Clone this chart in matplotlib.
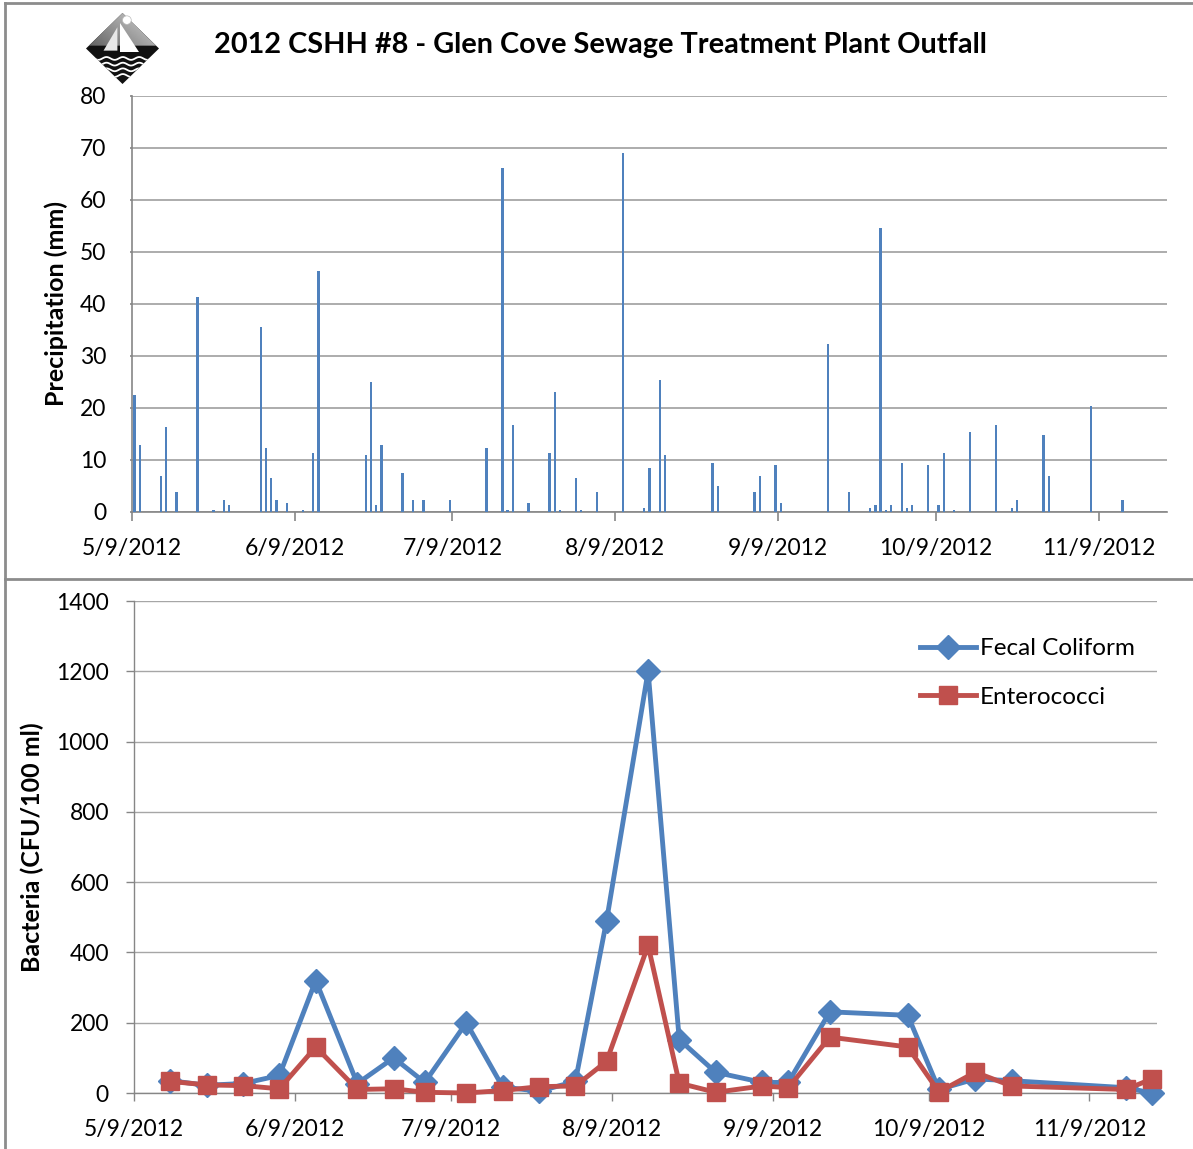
import numpy as np
import matplotlib
matplotlib.use('Agg')
import matplotlib.pyplot as plt
import matplotlib.dates as mdates
from matplotlib.patches import Polygon, Circle
from matplotlib.lines import Line2D
import datetime as dt

# ---------------- data ----------------
precip_dates = ['2012-05-09', '2012-05-10', '2012-05-14', '2012-05-15', '2012-05-17', '2012-05-21',
                '2012-05-24', '2012-05-26', '2012-05-27', '2012-06-02', '2012-06-03', '2012-06-04',
                '2012-06-05', '2012-06-07', '2012-06-10', '2012-06-12', '2012-06-13', '2012-06-22',
                '2012-06-23', '2012-06-24', '2012-06-25', '2012-06-29', '2012-07-01', '2012-07-03',
                '2012-07-08', '2012-07-15', '2012-07-18', '2012-07-19', '2012-07-20', '2012-07-23',
                '2012-07-27', '2012-07-28', '2012-07-29', '2012-08-01', '2012-08-02', '2012-08-05',
                '2012-08-10', '2012-08-14', '2012-08-15', '2012-08-17', '2012-08-18', '2012-08-27',
                '2012-08-28', '2012-09-04', '2012-09-05', '2012-09-08', '2012-09-09', '2012-09-18',
                '2012-09-22', '2012-09-26', '2012-09-27', '2012-09-28', '2012-09-29', '2012-09-30',
                '2012-10-02', '2012-10-03', '2012-10-04', '2012-10-07', '2012-10-09', '2012-10-10',
                '2012-10-12', '2012-10-15', '2012-10-20', '2012-10-23', '2012-10-24', '2012-10-29',
                '2012-10-30', '2012-11-07', '2012-11-13']
precip_mm = [22.5, 12.9, 7.0, 16.3, 3.8, 41.4,
             0.3, 2.3, 1.3, 35.6, 12.4, 6.5,
             2.3, 1.8, 0.3, 11.4, 46.4, 11.0,
             25.0, 1.3, 12.9, 7.5, 2.3, 2.3,
             2.3, 12.4, 66.1, 0.3, 16.8, 1.8,
             11.4, 23.0, 0.3, 6.5, 0.3, 3.8,
             69.0, 0.8, 8.5, 25.4, 11.0, 9.4,
             5.0, 3.8, 7.0, 9.0, 1.8, 32.4,
             3.8, 0.8, 1.3, 54.6, 0.3, 1.3,
             9.4, 0.8, 1.3, 9.0, 1.3, 11.4,
             0.3, 15.4, 16.8, 0.8, 2.3, 14.9,
             7.0, 20.3, 2.3]

sample_dates = ['2012-05-16', '2012-05-23', '2012-05-30', '2012-06-06', '2012-06-13', '2012-06-21',
                '2012-06-28', '2012-07-04', '2012-07-12', '2012-07-19', '2012-07-26', '2012-08-02',
                '2012-08-08', '2012-08-16', '2012-08-22', '2012-08-29', '2012-09-07', '2012-09-12',
                '2012-09-20', '2012-10-05', '2012-10-11', '2012-10-18', '2012-10-25', '2012-11-16',
                '2012-11-21']
fecal_coliform = [35, 22, 27, 50, 320, 27, 100, 30, 200, 17, 5, 33,
                  490, 1200, 152, 59, 30, 30, 231, 221, 10, 40, 35, 15, 0]
enterococci = [33, 23, 21, 12, 131, 10, 12, 2, 0, 7, 18, 20,
               90, 420, 28, 2, 20, 15, 159, 131, 3, 59, 20, 10, 40]

tick_dates = ['2012-05-09', '2012-06-09', '2012-07-09', '2012-08-09', '2012-09-09', '2012-10-09', '2012-11-09']
tick_labels = ['5/9/2012', '6/9/2012', '7/9/2012', '8/9/2012', '9/9/2012', '10/9/2012', '11/9/2012']
x_start, x_end = '2012-05-09', '2012-11-22'

title = '2012 CSHH #8 - Glen Cove Sewage Treatment Plant Outfall'

# ---------------- helpers ----------------
def d2n(s):
    return mdates.date2num(dt.datetime.strptime(s, '%Y-%m-%d'))

W, H = 1193, 1149
plt.rcParams['font.family'] = ['Lato', 'DejaVu Sans']
fig = plt.figure(figsize=(W / 100, H / 100), dpi=100)

def fx(px):
    return px / W

def fy(py):
    return 1 - py / H

BLUE = '#4F81BD'
RED = '#C0504D'
AXC = '#868686'
GRID = '#a6a6a6'
FS = 16.5

# ---------------- top: precipitation ----------------
ax1 = fig.add_axes([fx(132), fy(512), (1167 - 132) / W, (512 - 96) / H])
px = np.array([d2n(s) for s in precip_dates]) + 0.5
ax1.bar(px, precip_mm, width=0.45, color=BLUE, edgecolor='none', zorder=3)
ax1.set_xlim(d2n(x_start), d2n(x_end))
ax1.set_ylim(0, 80)
ax1.set_yticks(np.arange(0, 81, 10))
ax1.set_xticks([d2n(s) for s in tick_dates])
ax1.set_xticklabels(tick_labels)
ax1.yaxis.grid(True, color=GRID, linewidth=1.3, zorder=0)
ax1.set_axisbelow(True)
for sp in ['top', 'right']:
    ax1.spines[sp].set_visible(False)
for sp in ['left', 'bottom']:
    ax1.spines[sp].set_color(AXC)
    ax1.spines[sp].set_linewidth(1.2)
ax1.tick_params(axis='x', length=6.5, color=AXC, width=1.2, labelsize=FS, pad=12)
ax1.tick_params(axis='y', length=1.5, color=AXC, width=1.2, labelsize=FS, pad=17)
ax1.set_ylabel('Precipitation (mm)', fontsize=18, fontweight='bold')
ax1.yaxis.set_label_coords((68 - 132) / (1167 - 132), 0.5)

# ---------------- bottom: bacteria ----------------
ax2 = fig.add_axes([fx(134), fy(1093), (1157 - 134) / W, (1093 - 601) / H])
sx = [d2n(s) for s in sample_dates]
ax2.plot(sx, fecal_coliform, color=BLUE, linewidth=3.5, marker='D', markersize=12,
         label='Fecal Coliform', zorder=3, clip_on=False)
ax2.plot(sx, enterococci, color=RED, linewidth=3.5, marker='s', markersize=13.5,
         label='Enterococci', zorder=4, clip_on=False)
ax2.set_xlim(d2n(x_start), d2n(x_end))
ax2.set_ylim(0, 1400)
ax2.set_yticks(np.arange(0, 1401, 200))
ax2.set_xticks([d2n(s) for s in tick_dates])
ax2.set_xticklabels(tick_labels)
ax2.yaxis.grid(True, color=GRID, linewidth=1.0, zorder=0)
ax2.set_axisbelow(True)
for sp in ['top', 'right']:
    ax2.spines[sp].set_visible(False)
for sp in ['left', 'bottom']:
    ax2.spines[sp].set_color(AXC)
    ax2.spines[sp].set_linewidth(1.0)
ax2.tick_params(axis='both', length=6, color=AXC, width=1.0, labelsize=FS)
ax2.tick_params(axis='x', pad=13)
ax2.tick_params(axis='y', pad=12)
ax2.set_ylabel('Bacteria (CFU/100 ml)', fontsize=18, fontweight='bold')
ax2.yaxis.set_label_coords((44 - 134) / (1157 - 134), 0.5)
leg = ax2.legend(loc='upper left', bbox_to_anchor=(fx(920), fy(638)),
                 bbox_transform=fig.transFigure, frameon=False, fontsize=17.5,
                 handlelength=2.3, handletextpad=0.15, labelspacing=1.15,
                 borderpad=0, borderaxespad=0)

# ---------------- title ----------------
fig.text(fx(600), fy(45), title, ha='center', va='center', fontsize=20.8, fontweight='bold')

# ---------------- frame lines ----------------
fc = '#8c8c8c'
fig.add_artist(Line2D([fx(5), 1], [fy(3), fy(3)], color=fc, linewidth=2))
fig.add_artist(Line2D([fx(5), fx(5)], [fy(3), 0], color=fc, linewidth=2))
fig.add_artist(Line2D([fx(5), 1], [fy(579), fy(579)], color=fc, linewidth=2))

# ---------------- logo ----------------
axl = fig.add_axes([fx(86), fy(84), 73 / W, 71 / H])
axl.set_xlim(0, 1)
axl.set_ylim(0, 1)
axl.axis('off')
diamond = Polygon([(0.5, 1), (1, 0.5), (0.5, 0), (0, 0.5)], closed=True,
                  facecolor='#111111', edgecolor='none')
axl.add_patch(diamond)
gx, gy = np.meshgrid(np.linspace(0, 1, 60), np.linspace(0, 1, 60))
grad = 0.35 + 0.5 * (gx * 0.6 + gy * 0.4)
im = axl.imshow(grad, extent=[0, 1, 0.46, 1], origin='lower', cmap='gray',
                vmin=0, vmax=1, aspect='auto', zorder=2)
upper = Polygon([(0.5, 1), (0.96, 0.54), (0.04, 0.54)], closed=True, transform=axl.transData)
im.set_clip_path(upper)
axl.add_patch(Polygon([(0.47, 0.86), (0.47, 0.45), (0.72, 0.45)], closed=True,
                      facecolor='white', edgecolor='none', zorder=3))
axl.add_patch(Polygon([(0.43, 0.80), (0.24, 0.47), (0.43, 0.47)], closed=True,
                      facecolor='#e8e8e8', edgecolor='none', zorder=3))
axl.add_patch(Circle((0.56, 0.9), 0.06, facecolor='white', edgecolor='#bbbbbb',
                     linewidth=0.5, zorder=3))
wx = np.linspace(0.1, 0.9, 80)
for yy in [0.36, 0.28, 0.2, 0.12]:
    wl, = axl.plot(wx, yy + 0.02 * np.sin(wx * 28), color='white', linewidth=1.3, zorder=3)
    wl.set_clip_path(Polygon([(0.5, 1), (1, 0.5), (0.5, 0), (0, 0.5)], closed=True,
                             transform=axl.transData))

fig.savefig('out.png', dpi=100)
